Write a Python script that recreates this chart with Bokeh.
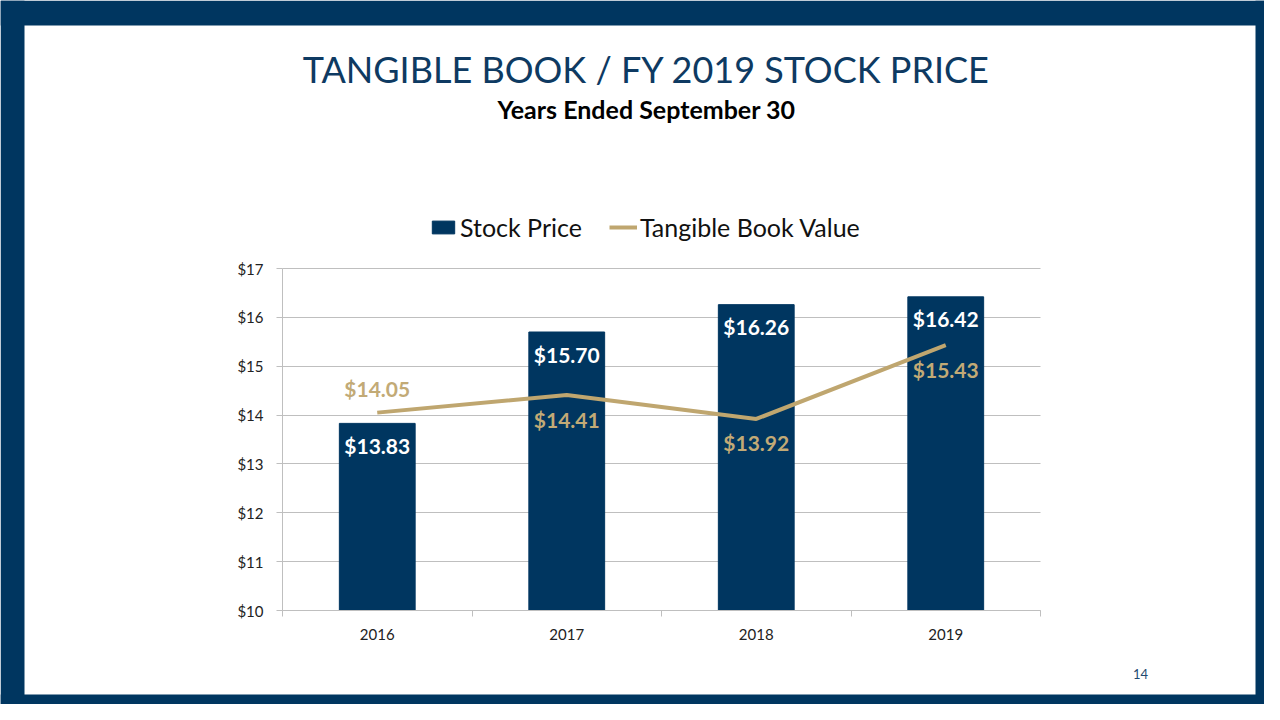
from bokeh.plotting import figure
from bokeh.models import (Range1d, FixedTicker, Legend, LegendItem, Label,
                          BoxAnnotation, NumeralTickFormatter)
from bokeh.embed import file_html
from bokeh.resources import INLINE
from bokeh.core.properties import value

# ---------------- data ----------------
years = ["2016", "2017", "2018", "2019"]
stock_price = [13.83, 15.70, 16.26, 16.42]
tangible_book = [14.05, 14.41, 13.92, 15.43]
y_ticks = [10, 11, 12, 13, 14, 15, 16, 17]
title_text = "TANGIBLE BOOK / FY 2019 STOCK PRICE"
subtitle_text = "Years Ended September 30"
legend_labels = ["Stock Price", "Tangible Book Value"]
page_number = "14"

# ---------------- style ----------------
NAVY = "#003660"
TAN = "#BFA66F"
TAN_TXT = "#C2AA76"
GRID = "#BFBFBF"
FONT = "Lato"

W, H = 1264, 704
# plot area in canvas px
PL, PR, PT, PB = 282, 1040, 268, 610
Y0, Y1 = 10, 17
n = len(years)
ux = (PR - PL) / n
uy = (PB - PT) / (Y1 - Y0)

def dx(px):
    return (px - PL) / ux

def dy(py):
    return Y0 + (PB - py) / uy

p = figure(width=W, height=H, output_backend="svg", toolbar_location=None,
           x_range=Range1d(dx(0), dx(W)), y_range=Range1d(dy(H), dy(0)),
           min_border_left=0, min_border_right=0,
           min_border_top=0, min_border_bottom=0, title=None)
p.outline_line_color = None
p.background_fill_color = "white"
p.border_fill_color = "white"

xs = [i + 0.5 for i in range(n)]

bars = p.vbar(x=xs, top=stock_price, bottom=Y0, width=0.4,
              fill_color=NAVY, line_color=NAVY)
line = p.line(x=xs, y=tangible_book, line_color=TAN, line_width=4)

# value labels
p.text(x=xs, y=stock_price, text=["$%.2f" % v for v in stock_price],
       text_color="white", text_font=value(FONT), text_font_style="bold",
       text_font_size="21px", text_align="center", text_baseline="middle",
       y_offset=22)
p.text(x=xs[:1], y=tangible_book[:1], text=["$%.2f" % v for v in tangible_book[:1]],
       text_color=TAN_TXT, text_font=value(FONT), text_font_style="bold",
       text_font_size="21px", text_align="center", text_baseline="middle",
       y_offset=-24)
p.text(x=xs[1:], y=tangible_book[1:], text=["$%.2f" % v for v in tangible_book[1:]],
       text_color=TAN_TXT, text_font=value(FONT), text_font_style="bold",
       text_font_size="21px", text_align="center", text_baseline="middle",
       y_offset=24)

# axes (fixed inside the frame)
xa = p.xaxis[0]
xa.fixed_location = Y0
xa.bounds = (0, n)
xa.ticker = FixedTicker(ticks=xs, minor_ticks=list(range(n + 1)))
xa.major_label_overrides = {x: y for x, y in zip(xs, years)}
xa.major_tick_out = 0
xa.major_tick_in = 0
xa.minor_tick_out = 6
xa.minor_tick_in = 0
xa.minor_tick_line_color = GRID
xa.axis_line_color = GRID
xa.major_label_standoff = 12
xa.major_label_text_font = FONT
xa.major_label_text_font_size = "15px"
xa.major_label_text_color = "#222222"

ya = p.yaxis[0]
ya.fixed_location = 0
ya.bounds = (Y0, Y1)
ya.ticker = FixedTicker(ticks=y_ticks)
ya.formatter = NumeralTickFormatter(format="$0")
ya.major_tick_out = 6
ya.major_tick_in = 0
ya.minor_tick_out = 0
ya.minor_tick_in = 0
ya.major_tick_line_color = GRID
ya.axis_line_color = GRID
ya.major_label_standoff = 13
ya.major_label_text_font = FONT
ya.major_label_text_font_size = "15px"
ya.major_label_text_color = "#222222"

p.xgrid.visible = False
p.ygrid.ticker = FixedTicker(ticks=y_ticks)
p.ygrid.grid_line_color = GRID
p.ygrid.cross_bounds = (0, n)

# legend
legend = Legend(items=[LegendItem(label=legend_labels[0], renderers=[bars]),
                       LegendItem(label=legend_labels[1], renderers=[line])],
                orientation="horizontal", location=(429, H - 242),
                border_line_color=None, background_fill_alpha=0,
                padding=0, margin=0, spacing=27, label_standoff=3,
                glyph_width=28, glyph_height=16,
                label_text_font=FONT, label_text_font_size="25px",
                label_text_color="#111111", label_text_baseline="middle")
p.add_layout(legend, "center")

# titles
p.add_layout(Label(x=dx(646), y=dy(68), text=title_text, text_align="center",
                   text_baseline="middle", text_font=FONT, text_font_size="36px",
                   text_color="#0E3A62"))
p.add_layout(Label(x=dx(646), y=dy(108), text=subtitle_text, text_align="center",
                   text_baseline="middle", text_font=FONT, text_font_size="25px",
                   text_font_style="bold", text_color="#000000"))
p.add_layout(Label(x=dx(1140), y=dy(673), text=page_number, text_align="center",
                   text_baseline="middle", text_font=FONT, text_font_size="13px",
                   text_color="#1F4A70"))

# slide frame
for kw in [dict(right=dx(24)), dict(left=dx(1255)),
           dict(bottom=dy(25)), dict(top=dy(694))]:
    p.add_layout(BoxAnnotation(fill_color=NAVY, fill_alpha=1, line_alpha=0,
                               level="overlay", **kw))

open("out.html", "w").write(file_html(p, INLINE))
